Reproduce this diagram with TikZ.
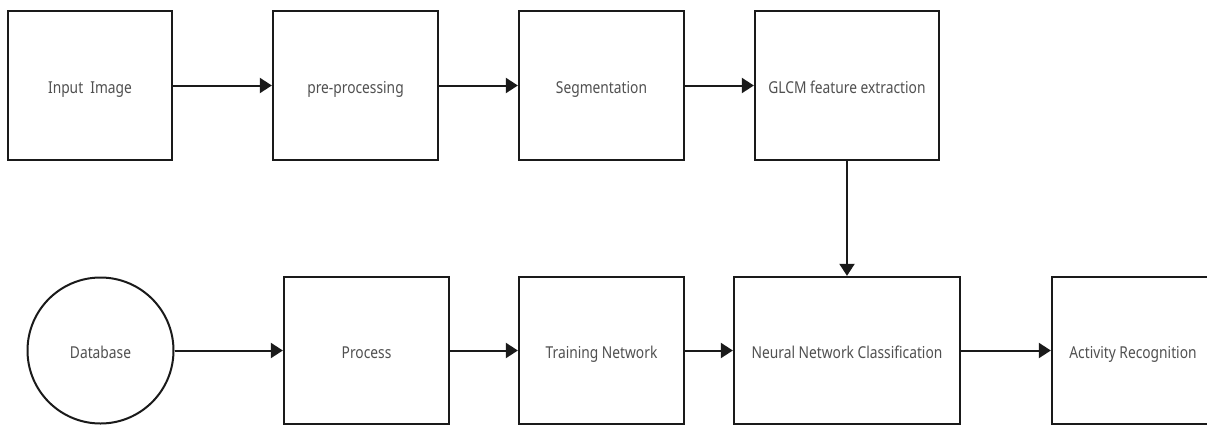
\documentclass[tikz,border=0pt]{standalone}
\usepackage{fontspec}
\setmainfont{Noto Sans}[FakeStretch=0.84]
\usetikzlibrary{arrows.meta}
\definecolor{txtgray}{HTML}{505050}
\definecolor{linek}{HTML}{1A1A1A}
\tikzset{
  labeltext/.style={text=txtgray, font=\fontsize{16.4}{19}\selectfont,
    text height=15.4pt, text depth=0pt},
  stepbox/.style={draw=linek, line width=2.3pt, fill=white, rectangle, inner sep=0pt, labeltext},
  dbcircle/.style={draw=linek, line width=2pt, fill=white, circle, inner sep=0pt,
    labeltext, minimum size=146pt},
  flow/.style={draw=linek, line width=2pt, -{Triangle[length=12pt,width=15pt]}}
}
\begin{document}
\begin{tikzpicture}[x=1pt,y=1pt]
  \useasboundingbox (0,0) rectangle (1207,-426);
  \clip (0,0) rectangle (1207,-426);
  % upper row
  \node[stepbox, minimum width=164pt, minimum height=149pt] (input) at (90,-85.5) {Input\ \ Image};
  \node[stepbox, minimum width=165pt, minimum height=149pt] (pre) at (355.5,-85.5) {pre-processing};
  \node[stepbox, minimum width=165pt, minimum height=149pt] (seg) at (601.5,-85.5) {Segmentation};
  \node[stepbox, minimum width=184pt, minimum height=149pt] (glcm) at (847,-85.5) {GLCM feature extraction};
  % lower row
  \node[dbcircle] (db) at (100.5,-350.5) {Database};
  \node[stepbox, minimum width=165pt, minimum height=147pt] (proc) at (366.5,-350.5) {Process};
  \node[stepbox, minimum width=165pt, minimum height=147pt] (train) at (601.5,-350.5) {Training Network};
  \node[stepbox, minimum width=226pt, minimum height=147pt] (nn) at (847,-350.5) {Neural Network Classification};
  \node[stepbox, minimum width=162pt, minimum height=147pt] (act) at (1133,-350.5) {Activity Recognition};
  % connectors
  \draw[flow] (input) -- (pre);
  \draw[flow] (pre) -- (seg);
  \draw[flow] (seg) -- (glcm);
  \draw[flow] (glcm) -- (nn);
  \draw[flow] (db) -- (proc);
  \draw[flow] (proc) -- (train);
  \draw[flow] (train) -- (nn);
  \draw[flow] (nn) -- (act);
\end{tikzpicture}
\end{document}
